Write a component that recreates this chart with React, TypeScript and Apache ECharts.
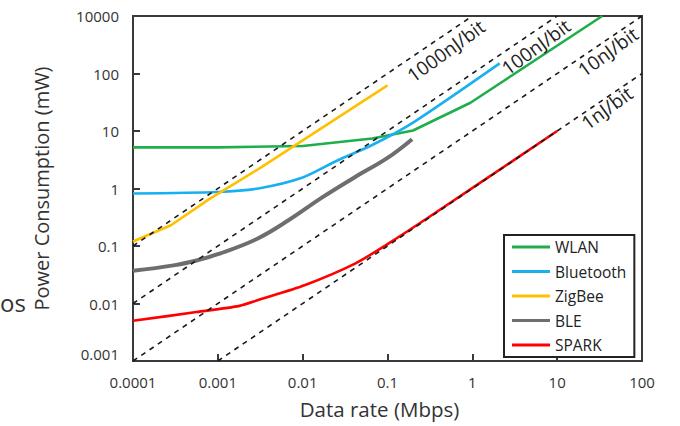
import React, { useEffect, useRef } from "react";
import * as echarts from "echarts";

// ---- data ----
const seriesNames = ["WLAN", "Bluetooth", "ZigBee", "BLE", "SPARK"];
const seriesColors = ["#1fae4b", "#18b0ef", "#ffc000", "#6e6e6e", "#ff0000"];

// [data rate (Mbps), power (mW)]
const wlan = [
  [0.0001, 5.2], [0.001, 5.2], [0.01, 5.5], [0.066, 7.4], [0.2, 10.2],
  [0.95, 31], [34, 1000],
];
const bluetooth = [
  [0.0001, 0.82], [0.001, 0.87], [0.003, 1.0], [0.01, 1.55], [0.026, 3.1],
  [0.066, 5.7], [0.2, 14], [2.1, 150],
];
const zigbee = [
  [0.0001, 0.12], [0.00028, 0.23], [0.0008, 0.66], [0.0032, 2.3], [0.1, 62],
];
const ble = [
  [0.0001, 0.037], [0.0003, 0.046], [0.00056, 0.056], [0.001, 0.072],
  [0.0028, 0.13], [0.0068, 0.28], [0.017, 0.7], [0.042, 1.6], [0.1, 3.4],
  [0.195, 7.2],
];
const spark = [
  [0.0001, 0.005], [0.00056, 0.0071], [0.0018, 0.0091], [0.003, 0.0115],
  [0.0107, 0.021], [0.042, 0.05], [0.1, 0.108], [0.3, 0.31], [10, 10],
];
const seriesData = [wlan, bluetooth, zigbee, ble, spark];

// constant energy-per-bit reference lines
const energyLabels = ["1nJ/bit", "10nJ/bit", "100nJ/bit", "1000nJ/bit"];
const energy1 = [[0.001, 0.001], [100, 100]];
const energy10 = [[0.0001, 0.001], [100, 1000]];
const energy100 = [[0.0001, 0.01], [10, 1000]];
const energy1000 = [[0.0001, 0.1], [1, 1000]];
const energyData = [energy1, energy10, energy100, energy1000];

const yTickLabels = ["0.001", "0.01", "0.1", "1", "10", "100", "10000"];
const xTickLabels = ["0.0001", "0.001", "0.01", "0.1", "1", "10", "100"];

const FONT = "Open Sans";

export default function App() {
  const ref = useRef<HTMLDivElement>(null);

  useEffect(() => {
    if (!ref.current) return;
    const chart = echarts.init(ref.current, undefined, { renderer: "svg" });

    const lineSeries = seriesNames.map((name, i) => ({
      name,
      type: "line",
      data: seriesData[i],
      symbol: "none",
      showSymbol: false,
      smooth: i === 0 || i === 2 ? false : i === 3 ? 0.4 : 0.25,
      lineStyle: { color: seriesColors[i], width: i === 3 ? 4 : 2.6 },
      itemStyle: { color: seriesColors[i] },
      z: 2,
      clip: true,
    }));

    const dashSeries = energyData.map((d, i) => ({
      name: energyLabels[i],
      type: "line",
      data: d,
      symbol: "none",
      showSymbol: false,
      silent: true,
      lineStyle: { color: "#1a1a1a", width: 1.6, type: [5, 5] },
      z: 3,
      clip: true,
    }));

    const rot = (36 * Math.PI) / 180;
    const labelPos = [
      [607, 108],
      [608, 52],
      [536, 47],
      [446, 51],
    ];

    const option = {
      animation: false,
      backgroundColor: "#ffffff",
      grid: {
        left: 133,
        right: 38,
        top: 16,
        bottom: 65,
        show: true,
        borderColor: "#3a3a3a",
        borderWidth: 2,
        backgroundColor: "transparent",
      },
      legend: {
        data: seriesNames,
        orient: "vertical",
        left: 504,
        top: 235,
        icon: "path://M0,0 L38,0 L38,3 L0,3 Z",
        itemWidth: 38,
        itemHeight: 14,
        itemGap: 8.5,
        padding: [4, 8, 4, 8],
        borderColor: "#222",
        borderWidth: 2,
        backgroundColor: "#fff",
        textStyle: { fontFamily: FONT, fontSize: 15.5, color: "#222" },
        selectedMode: false,
        z: 10,
      },
      xAxis: {
        type: "log",
        logBase: 10,
        min: 0.0001,
        max: 100,
        name: "Data rate (Mbps)",
        nameLocation: "middle",
        nameGap: 37,
        nameTextStyle: { fontFamily: FONT, fontSize: 20.5, color: "#333", padding: [0, 16, 0, 0] },
        axisLine: { show: true, lineStyle: { color: "#3a3a3a", width: 2 } },
        axisTick: { show: true, inside: true, length: 7, lineStyle: { color: "#3a3a3a", width: 2 } },
        minorTick: { show: false },
        splitLine: { show: false },
        axisLabel: {
          fontFamily: FONT,
          fontSize: 15,
          color: "#333",
          margin: 13,
          formatter: (v: number) => xTickLabels[Math.round(Math.log10(v)) + 4] ?? "",
        },
      },
      yAxis: {
        type: "log",
        logBase: 10,
        min: 0.001,
        max: 1000,
        name: "Power Consumption (mW)",
        nameLocation: "middle",
        nameGap: 82,
        nameTextStyle: { fontFamily: FONT, fontSize: 20, color: "#333" },
        axisLine: { show: true, lineStyle: { color: "#3a3a3a", width: 2 } },
        axisTick: { show: true, inside: true, length: 7, lineStyle: { color: "#3a3a3a", width: 2 } },
        minorTick: { show: false },
        splitLine: { show: false },
        axisLabel: {
          fontFamily: FONT,
          fontSize: 15,
          color: "#333",
          margin: 14,
          verticalAlignMinLabel: "bottom",
          formatter: (v: number) => yTickLabels[Math.round(Math.log10(v)) + 3] ?? "",
        },
      },
      graphic: [
        ...energyLabels.map((t, i) => ({
          type: "text",
          x: labelPos[i][0],
          y: labelPos[i][1],
          rotation: rot,
          z: 20,
          style: {
            text: t,
            fill: "#222",
            fontFamily: FONT,
            fontSize: 19,
            align: "center",
            verticalAlign: "middle",
          },
        })),
        {
          type: "text",
          x: 0,
          y: 302,
          style: {
            text: "os",
            fill: "#333",
            fontFamily: FONT,
            fontSize: 24,
            align: "left",
            verticalAlign: "middle",
          },
        },
      ],
      series: [...lineSeries, ...dashSeries],
    };

    chart.setOption(option as any);
    return () => chart.dispose();
  }, []);

  return <div ref={ref} style={{ width: 680, height: 426, position: "absolute", left: 0, top: 0 }} />;
}
